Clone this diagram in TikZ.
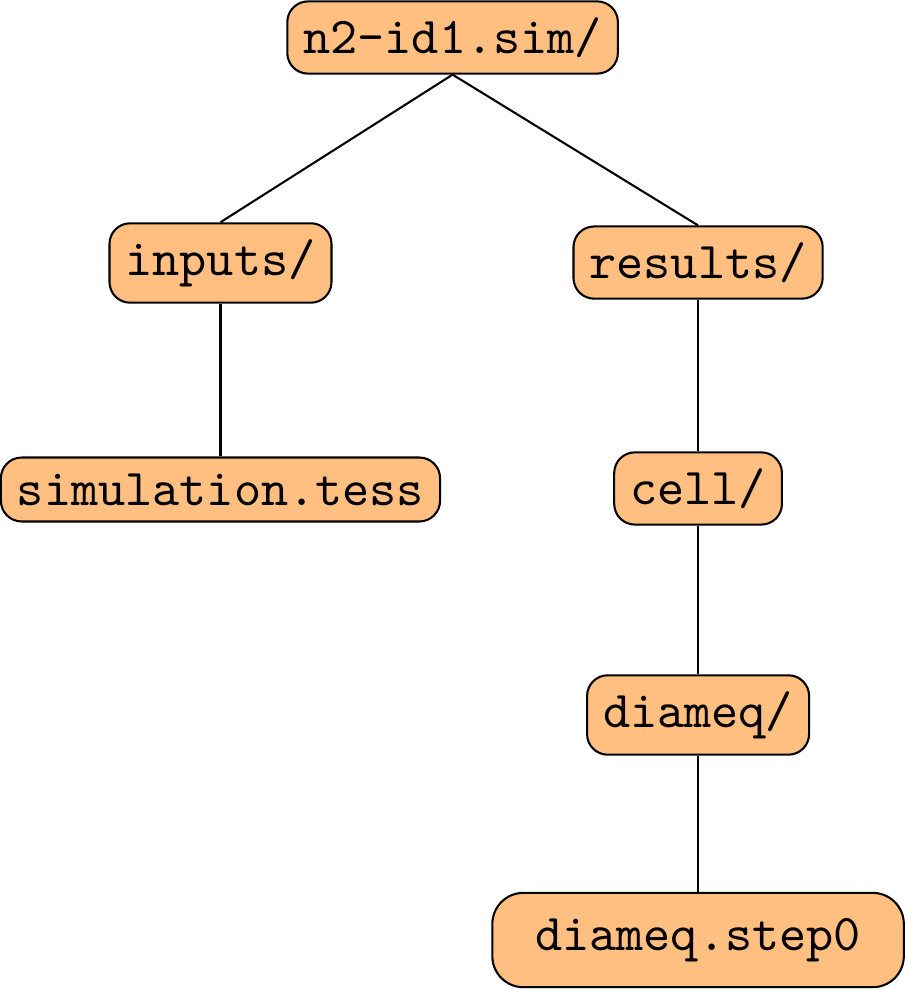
\documentclass[tikz,border=0pt]{standalone}
\usepackage{tikz}
\usepackage{xcolor}
\usetikzlibrary{positioning}
\definecolor{dirorange}{RGB}{255, 191, 128}

\begin{document}
\begin{tikzpicture}[
        dir/.style={draw, fill=dirorange, rounded corners=4pt, inner sep=3.1pt, font=\ttfamily},
        wide/.style={dir, rounded corners=6pt, inner xsep=8.3pt, inner ysep=4.9pt}
    ]
    \useasboundingbox (0,0) rectangle (6.153,-6.724);
    \node[dir] (root) at (3.077,-0.255) {n2-id1.sim/};
    \node[dir] (inputs) at (1.499,-1.788) {inputs/};
    \node[dir] (results) at (4.746,-1.785) {results/};
    \node[dir] (tess) at (1.499,-3.328) {simulation.tess};
    \node[dir] (cell) at (4.746,-3.321) {cell/};
    \node[dir] (diameq) at (4.746,-4.861) {diameq/};
    \node[wide] (step) at (4.746,-6.391) {diameq.step0};
    \draw (root.south) -- (inputs.north);
    \draw (root.south) -- (results.north);
    \draw (inputs.south) -- (tess.north);
    \draw (results.south) -- (cell.north);
    \draw (cell.south) -- (diameq.north);
    \draw (diameq.south) -- (step.north);
\end{tikzpicture}
\end{document}
